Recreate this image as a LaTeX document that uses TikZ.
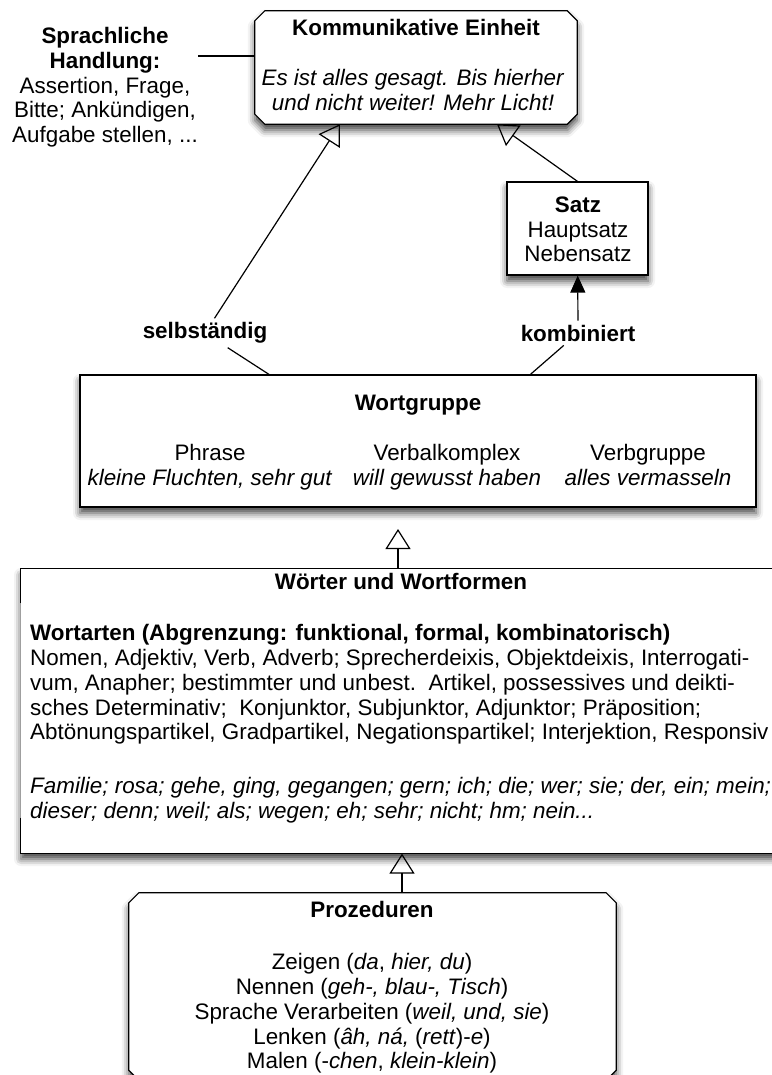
\documentclass[tikz,border=0pt]{standalone}
\usepackage{fontspec}
\setmainfont{Liberation Sans}
\usetikzlibrary{arrows.meta,shadows.blur,calc}

\begin{document}
\begin{tikzpicture}[x=1pt,y=-1pt,
every node/.style={font=\fontsize{22.4}{24.7}\selectfont},
txt/.style={inner sep=0pt, align=center},
box/.style={%
fill=white, line width=1.2pt,
blur shadow={shadow xshift=0pt, shadow yshift=-6pt, shadow blur radius=7pt, shadow opacity=75}
},
sharp/.style={box, draw, rectangle, inner sep=0pt},
frame/.style={rectangle, inner sep=0pt},
lab/.style={font=\fontsize{22.4}{24.7}\selectfont\bfseries, inner sep=4pt},
open/.style={-{Triangle[open, length=20pt, width=25pt, line width=1.2pt]}, line width=1.2pt},
solid tip/.style={-{Triangle[length=17pt, width=15pt, fill=black]}, line width=1.2pt}
]
\useasboundingbox (0,0) rectangle (771,1075);
%% Sprachliche Handlung
\node[txt]at(105,87.5)(hand){\textbf{Sprachliche}\\\textbf{Handlung:}\\Assertion, Frage,\\Bitte; Ankündigen,\\Aufgabe stellen, ...};
%% Kommunikative Einheit
\node[frame, minimum width=322pt, minimum height=113pt]at(416,67.5)(komm){};
\path[box, draw]([xshift=10pt]komm.north west)--([xshift=-10pt]komm.north east)
  --([yshift=-10pt]komm.north east)--([yshift=10pt]komm.south east)
  --([xshift=-10pt]komm.south east)--([xshift=10pt]komm.south west)
  --([yshift=10pt]komm.south west)--([yshift=-10pt]komm.north west)--cycle;
\node[txt, anchor=north]at(416,19.5)(kommtitle){\textbf{Kommunikative Einheit}};
\node[txt, anchor=north]at(413,69)(kommex){\textit{Es ist alles gesagt. Bis hierher}\\\textit{und nicht weiter! Mehr Licht!}};
\coordinate(handlink)at(198,56);
\draw[line width=1.2pt](handlink)--(handlink -| komm.west);
%% Satz
\node[sharp, minimum width=141pt, minimum height=93pt]at(577.5,228.5)(satz){};
\node[txt, anchor=north]at(578,196.5)(satztext){\textbf{Satz}\\Hauptsatz\\Nebensatz};
\draw[open](satz.north)--([xshift=81pt]komm.south);
%% Wortgruppe
\node[sharp, minimum width=676pt, minimum height=132pt]at(418,441)(wg){};
\node[txt, anchor=north]at(418,394.5)(wgtitle){\textbf{Wortgruppe}};
\node[txt, anchor=north]at(210,444.5)(phrase){Phrase\\\textit{kleine Fluchten, sehr gut}};
\node[txt, anchor=north]at(447,444.5)(vkomplex){Verbalkomplex\\\textit{will gewusst haben}};
\node[txt, anchor=north]at(648,444.5)(vgruppe){Verbgruppe\\\textit{alles vermasseln}};
%% selbstaendig / kombiniert
\node[lab]at(205,333)(selb){selbständig};
\node[lab]at(578,333)(komb){kombiniert};
\coordinate(selbA)at($(wg.north west)!0.28!(wg.north east)$);
\coordinate(kombA)at($(wg.north west)!0.666!(wg.north east)$);
\draw[open](selbA)--(selb)--([xshift=-76pt]komm.south);
\draw[solid tip](kombA)--(komb)--(satz);
%% Woerter und Wortformen
\node[box, rectangle, minimum width=760pt, minimum height=284pt]at(401,711)(woerter){};
\draw[line width=1.2pt]([yshift=-35pt]woerter.north west)--(woerter.north west)--(woerter.north east);
\draw[line width=1.2pt]([yshift=36pt]woerter.south west)--(woerter.south west)--(woerter.south east);
\node[txt, anchor=north]at(401,573.5)(wtitle){\textbf{Wörter und Wortformen}};
\node[inner sep=0pt, align=left, anchor=north west]at(30,624.5)(wortarten){%
\textbf{Wortarten (Abgrenzung: funktional, formal, kombinatorisch)}\\
Nomen, Adjektiv, Verb, Adverb; Sprecherdeixis, Objektdeixis, Interrogati-\\
vum, Anapher; bestimmter und unbest.\ \ Artikel, possessives und deikti-\\
sches Determinativ;\ \ Konjunktor, Subjunktor, Adjunktor; Präposition;\\
Abtönungspartikel, Gradpartikel, Negationspartikel; Interjektion, Responsiv\\[29pt]
\textit{Familie; rosa; gehe, ging, gegangen; gern; ich; die; wer; sie; der, ein; mein;}\\
\textit{dieser; denn; weil; als; wegen; eh; sehr; nicht; hm; nein...}};
\coordinate(wgtip)at(398,529);
\draw[open](wgtip |- woerter.north)--(wgtip);
%% Prozeduren
\node[frame, minimum width=487pt, minimum height=187pt]at(372.5,986.5)(proz){};
\path[box, draw]([xshift=10pt]proz.north west)--([xshift=-10pt]proz.north east)
  --([yshift=-10pt]proz.north east)--([yshift=10pt]proz.south east)
  --([xshift=-10pt]proz.south east)--([xshift=10pt]proz.south west)
  --([yshift=10pt]proz.south west)--([yshift=-10pt]proz.north west)--cycle;
\node[txt, anchor=north]at(372,901.5)(proztitle){\textbf{Prozeduren}};
\node[txt, anchor=north]at(372,953.5)(prozlist){Zeigen (\textit{da}, \textit{hier, du})\\
Nennen (\textit{geh-, blau-, Tisch})\\
Sprache Verarbeiten (\textit{weil, und, sie})\\
Lenken (\textit{âh, ná,} (\textit{rett})-\textit{e})\\
Malen (-\textit{chen}, \textit{klein-klein})};
\coordinate(prozlink)at(402,893);
\draw[open](prozlink)--(prozlink |- woerter.south);
\end{tikzpicture}
\end{document}
